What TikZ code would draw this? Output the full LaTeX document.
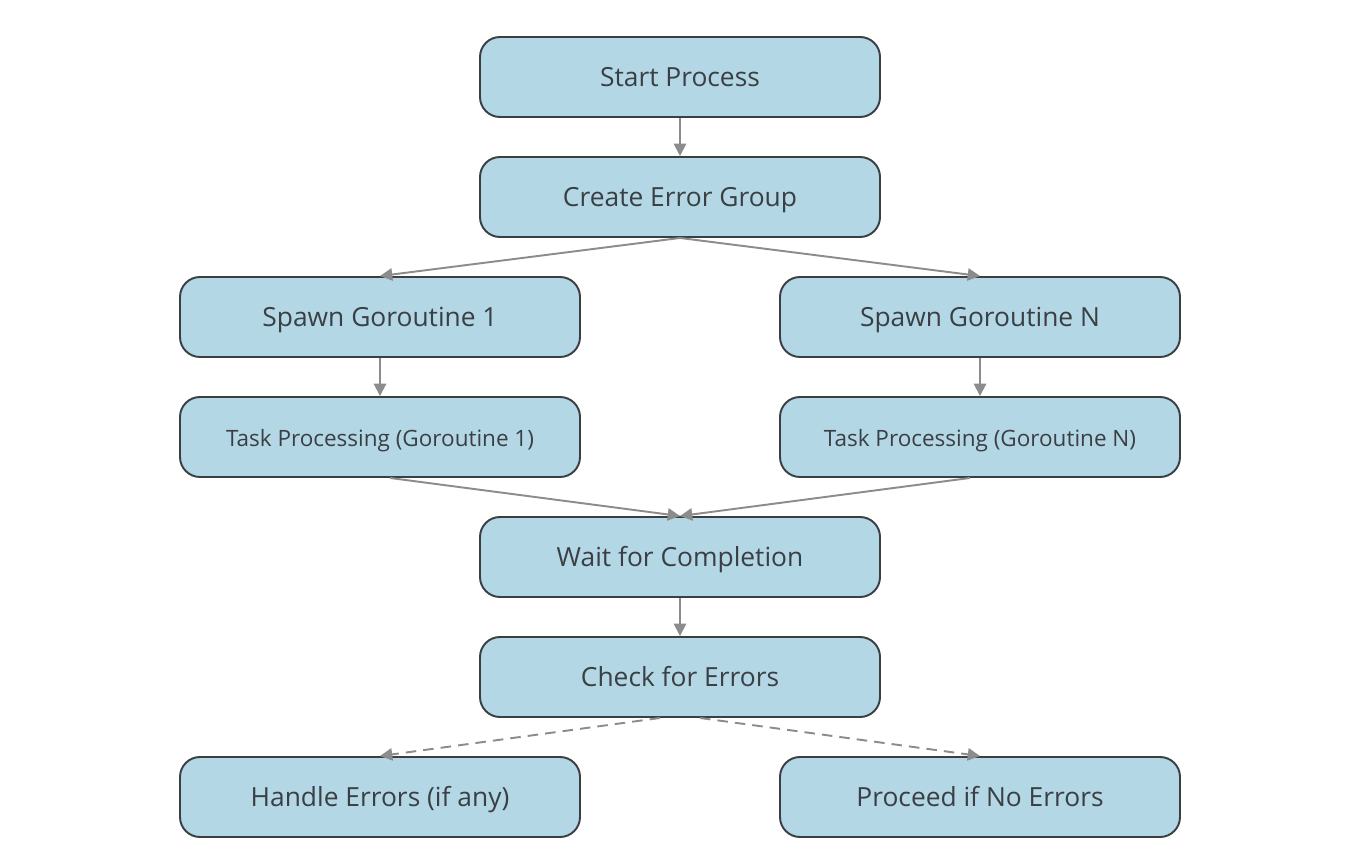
\documentclass[tikz,border=0pt]{standalone}
\usepackage{fontspec}
\setmainfont{Open Sans}
\usetikzlibrary{arrows.meta}
\definecolor{boxfill}{HTML}{B4D7E5}
\definecolor{boxline}{HTML}{3A3F44}
\definecolor{linkgray}{HTML}{8C8C8C}
\tikzset{
  stepbox/.style={draw=boxline, line width=1.1pt, fill=boxfill, rounded corners=0.4cm,
    minimum width=8cm, minimum height=1.6cm, text=boxline, text height=12.5pt, text depth=2pt,
    font=\fontsize{15}{17}\selectfont},
  small/.style={font=\fontsize{12.8}{15}\selectfont},
  link/.style={draw=linkgray, line width=1.1pt, -{Triangle[width=7pt,length=7pt]}}
}
\begin{document}
\begin{tikzpicture}
      \useasboundingbox (0,0) rectangle (27,-17.04);
      \draw
        (13.6,-1.54) node[stepbox] (start){Start Process}
        (13.6,-3.94) node[stepbox] (group){Create Error Group}
        (7.6,-6.34) node[stepbox] (spawn1){Spawn Goroutine 1}
        (19.6,-6.34) node[stepbox] (spawnN){Spawn Goroutine N}
        (7.6,-8.74) node[stepbox,small] (task1){Task Processing (Goroutine 1)}
        (19.6,-8.74) node[stepbox,small] (taskN){Task Processing (Goroutine N)}
        (13.6,-11.14) node[stepbox] (wait){Wait for Completion}
        (13.6,-13.54) node[stepbox] (check){Check for Errors}
        (7.6,-15.94) node[stepbox] (handle){Handle Errors (if any)}
        (19.6,-15.94) node[stepbox] (proceed){Proceed if No Errors};
      \begin{scope}[link]
        \draw (start) to (group);
        \draw (group.south) to (spawn1.north);
        \draw (group.south) to (spawnN.north);
        \draw (spawn1) to (task1);
        \draw (spawnN) to (taskN);
        \draw ([xshift=0.2cm]task1.south) to (wait.north);
        \draw ([xshift=-0.2cm]taskN.south) to (wait.north);
        \draw (wait) to (check);
        \draw[dash pattern=on 6pt off 4pt] ([xshift=-0.4cm]check.south) to (handle.north);
        \draw[dash pattern=on 6pt off 4pt] ([xshift=0.4cm]check.south) to (proceed.north);
      \end{scope}
    \end{tikzpicture}
\end{document}
